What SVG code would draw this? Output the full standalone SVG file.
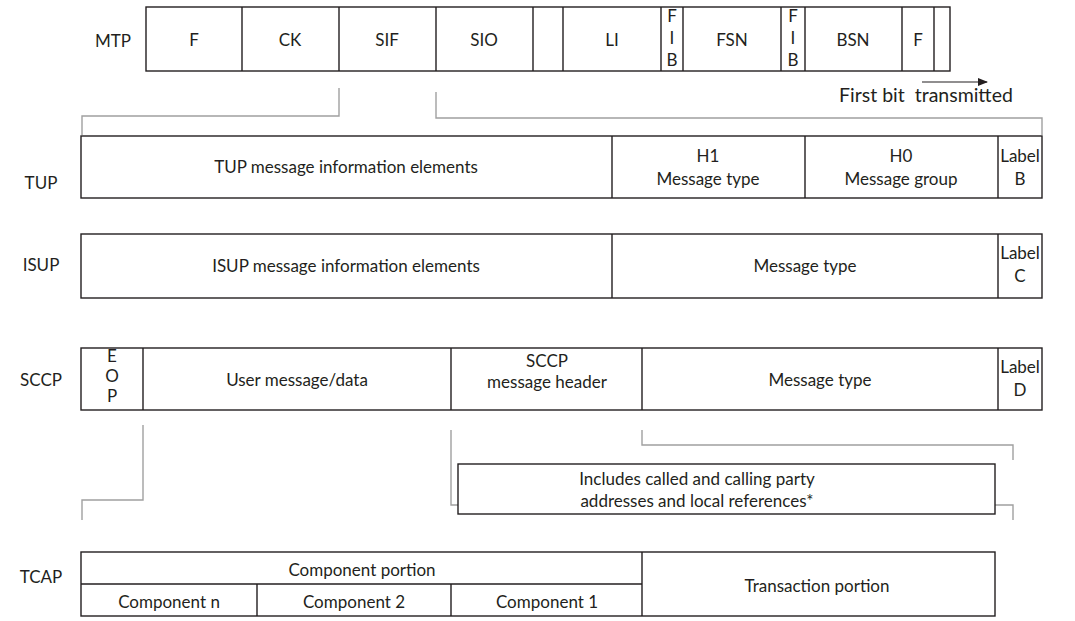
<svg xmlns="http://www.w3.org/2000/svg" width="1075" height="621" viewBox="0 0 1075 621">
<defs>
<style>
.b{fill:#fff;stroke:#231f20;stroke-width:1.4}
.l{fill:none;stroke:#231f20;stroke-width:1.4}
.c{fill:none;stroke:#a0a0a0;stroke-width:1.4}
text{font-family:Lato,"Noto Sans",sans-serif;font-size:17px;fill:#231f20;text-anchor:middle}
.s{text-anchor:start}
</style>
<marker id="ah" markerWidth="10" markerHeight="8" refX="9" refY="4" orient="auto" markerUnits="userSpaceOnUse">
<path d="M0,0 L10,4 L0,8 Z" fill="#231f20"/>
</marker>
</defs>
<rect width="1075" height="621" fill="#fff"/>

<g id="connectors">
<path class="c" d="M339,88 V116 H82 V135"/>
<path class="c" d="M436,92 V118 H1042 V135"/>
<path class="c" d="M143,425 V500 H82 V520"/>
<path class="c" d="M451,430 V505 H1013 V520"/>
<path class="c" d="M642,430 V445 H1013 V460"/>
<line class="l" x1="922" y1="82" x2="987" y2="82" marker-end="url(#ah)" style="stroke-width:1.2"/>
</g>

<g id="mtp">
<text x="113" y="47">MTP</text>
<rect class="b" x="146" y="7" width="804" height="64"/>
<path class="l" d="M242,7V71M339,7V71M436,7V71M533,7V71M563,7V71M661,7V71M683,7V71M781,7V71M805,7V71M902,7V71M934,7V71"/>
<text x="194" y="46">F</text>
<text x="290" y="46">CK</text>
<text x="387" y="46">SIF</text>
<text x="484" y="46">SIO</text>
<text x="612" y="46">LI</text>
<text x="672" y="22">F</text>
<text x="672" y="44">I</text>
<text x="672" y="66">B</text>
<text x="732" y="46">FSN</text>
<text x="793" y="22">F</text>
<text x="793" y="44">I</text>
<text x="793" y="66">B</text>
<text x="853" y="46">BSN</text>
<text x="918" y="46">F</text>
<text class="s" x="839" y="102" xml:space="preserve" style="font-size:19.5px">First bit  transmitted</text>
</g>

<g id="tup">
<text x="41" y="189">TUP</text>
<rect class="b" x="81" y="136" width="961" height="62"/>
<path class="l" d="M612,136V198M805,136V198M998,136V198"/>
<text x="346" y="173">TUP message information elements</text>
<text x="708" y="162">H1</text>
<text x="708" y="185">Message type</text>
<text x="901" y="162">H0</text>
<text x="901" y="185">Message group</text>
<text x="1020" y="162">Label</text>
<text x="1020" y="185">B</text>
</g>

<g id="isup">
<text x="41" y="271">ISUP</text>
<rect class="b" x="81" y="234" width="961" height="64"/>
<path class="l" d="M612,234V298M998,234V298"/>
<text x="346" y="272">ISUP message information elements</text>
<text x="805" y="272">Message type</text>
<text x="1020" y="259">Label</text>
<text x="1020" y="282">C</text>
</g>

<g id="sccp">
<text x="41" y="386">SCCP</text>
<rect class="b" x="81" y="348" width="961" height="62"/>
<path class="l" d="M143,348V410M451,348V410M642,348V410M998,348V410"/>
<text x="112" y="362">E</text>
<text x="112" y="382">O</text>
<text x="112" y="402">P</text>
<text x="297" y="386">User message/data</text>
<text x="547" y="367">SCCP</text>
<text x="547" y="388">message header</text>
<text x="820" y="386">Message type</text>
<text x="1020" y="373">Label</text>
<text x="1020" y="396">D</text>
</g>

<g id="note">
<rect class="b" x="458" y="464" width="537" height="50"/>
<text x="697" y="485">Includes called and calling party</text>
<text x="697" y="507">addresses and local references*</text>
</g>

<g id="tcap">
<text x="41" y="583">TCAP</text>
<rect class="b" x="81" y="552" width="914" height="64"/>
<path class="l" d="M642,552V616M81,584H642M257,584V616M451,584V616"/>
<text x="362" y="576">Component portion</text>
<text x="817" y="592">Transaction portion</text>
<text x="169" y="608">Component n</text>
<text x="354" y="608">Component 2</text>
<text x="547" y="608">Component 1</text>
</g>
</svg>
